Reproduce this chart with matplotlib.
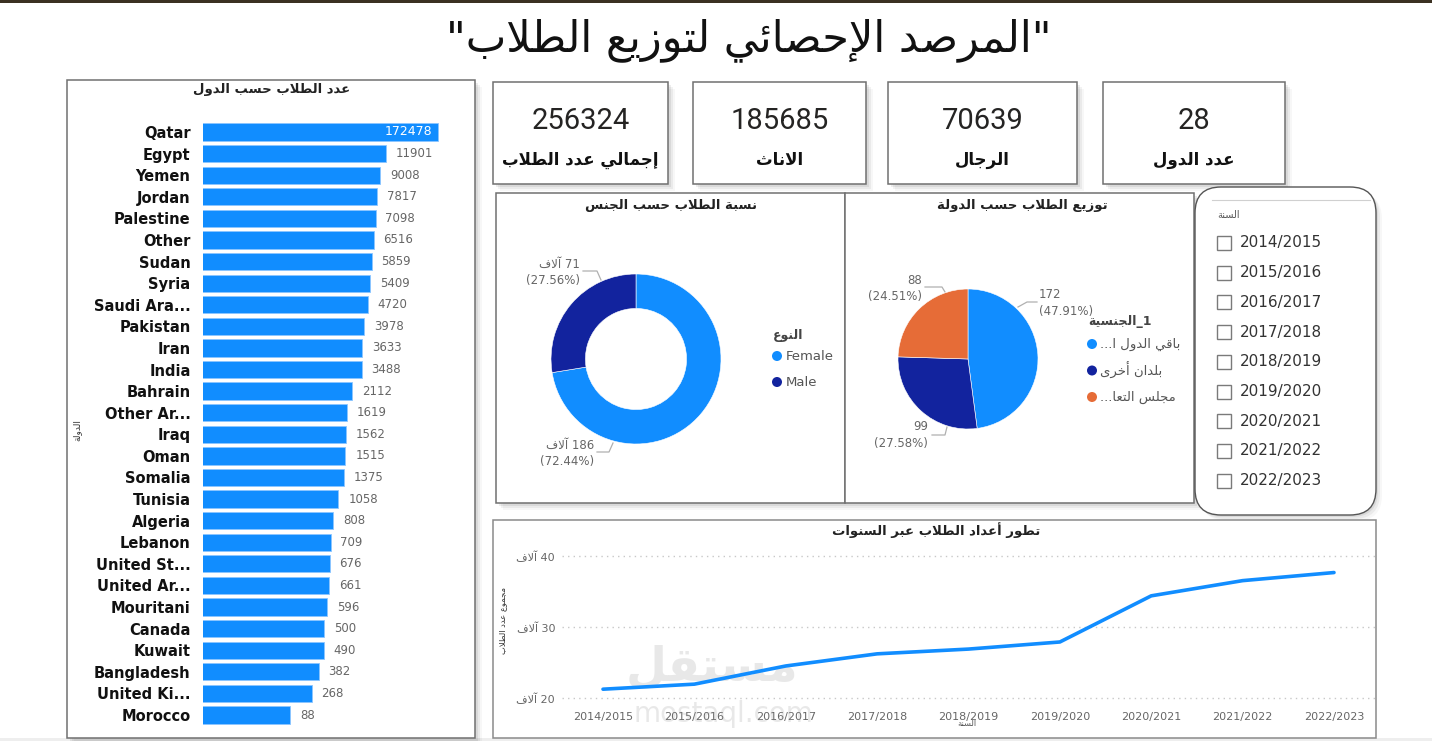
import numpy as np
import matplotlib.pyplot as plt
from matplotlib.patches import Rectangle, FancyBboxPatch, Circle

plt.rcParams['font.family'] = ['DejaVu Sans']

# ---- data ----
countries = ['Qatar', 'Egypt', 'Yemen', 'Jordan', 'Palestine', 'Other', 'Sudan',
             'Syria', 'Saudi Ara...', 'Pakistan', 'Iran', 'India', 'Bahrain',
             'Other Ar...', 'Iraq', 'Oman', 'Somalia', 'Tunisia', 'Algeria',
             'Lebanon', 'United St...', 'United Ar...', 'Mouritani', 'Canada',
             'Kuwait', 'Bangladesh', 'United Ki...', 'Morocco']
students = [172478, 11901, 9008, 7817, 7098, 6516, 5859, 5409, 4720, 3978,
            3633, 3488, 2112, 1619, 1562, 1515, 1375, 1058, 808, 709, 676,
            661, 596, 500, 490, 382, 268, 88]

kpi_values = ['256324', '185685', '70639', '28']
kpi_labels = ['إجمالي عدد الطلاب', 'الاناث', 'الرجال', 'عدد الدول']

genders = ['Female', 'Male']
gender_counts = [185685, 70639]

regions = ['باقي الدول ا...', 'بلدان أخرى', 'مجلس التعا...']
region_counts = [172, 99, 88]

years = ['2014/2015', '2015/2016', '2016/2017', '2017/2018', '2018/2019',
         '2019/2020', '2020/2021', '2021/2022', '2022/2023']
yearly_students = [21240, 21950, 24510, 26220, 26890, 27890, 34390, 36530, 37670]

BLUE = '#118DFF'
NAVY = '#12239E'
ORANGE = '#E66C37'
W, H = 1432, 741

# ---- minimal Arabic shaping (presentation forms + right-to-left order) ----
AR_LETTERS = 'ءآأؤإئابةتثجحخدذرزسشصضطظعغفقكلمنهوىي'
AR_NFORMS = [1, 2, 2, 2, 2, 4, 2, 4, 2, 4, 4, 4, 4, 4, 2, 2, 2, 2,
             4, 4, 4, 4, 4, 4, 4, 4, 4, 4, 4, 4, 4, 4, 4, 2, 2, 4]
AR_FORMS = {}
_code = 0xFE80
for _c, _n in zip(AR_LETTERS, AR_NFORMS):
    AR_FORMS[_c] = (_code, _n)
    _code += _n
LAM_ALEF = {'آ': 0xFEF5, 'أ': 0xFEF7, 'إ': 0xFEF9, 'ا': 0xFEFB}


def ar(text):
    tokens = []
    i = 0
    while i < len(text):
        c = text[i]
        if c == 'ل' and i + 1 < len(text) and text[i + 1] in LAM_ALEF:
            tokens.append(('LA', text[i + 1]))
            i += 2
        else:
            tokens.append(c)
            i += 1

    def nforms(t):
        if isinstance(t, tuple):
            return 2
        return AR_FORMS[t][1] if t in AR_FORMS else 0

    out = []
    for k, t in enumerate(tokens):
        pj = bool(k > 0 and nforms(tokens[k - 1]) == 4 and nforms(t) >= 2)
        nj = bool(k + 1 < len(tokens) and nforms(t) == 4 and nforms(tokens[k + 1]) >= 2)
        if isinstance(t, tuple):
            out.append(chr(LAM_ALEF[t[1]] + pj))
        elif t in AR_FORMS:
            base, n = AR_FORMS[t]
            if n == 4:
                out.append(chr(base + [[0, 2], [1, 3]][pj][nj]))
            elif n == 2:
                out.append(chr(base + pj))
            else:
                out.append(chr(base))
        else:
            out.append(t)
    return ''.join(reversed(out))


fig = plt.figure(figsize=(W / 100, H / 100), dpi=100, facecolor='white')


def px_axes(x0, y0, x1, y1):
    return fig.add_axes([x0 / W, 1 - y1 / H, (x1 - x0) / W, (y1 - y0) / H])


# background layer in pixel coordinates
bg = fig.add_axes([0, 0, 1, 1])
bg.set_xlim(0, W)
bg.set_ylim(H, 0)
bg.axis('off')


def panel(x0, y0, x1, y1, ec='#707070', shadow=True):
    if shadow:
        for k, a in ((7, 0.03), (5, 0.05), (3, 0.07)):
            bg.add_patch(Rectangle((x0 + k, y0 + k), x1 - x0, y1 - y0,
                                   fc='black', ec='none', alpha=a))
    bg.add_patch(Rectangle((x0, y0), x1 - x0, y1 - y0, fc='white', ec=ec, lw=1.1))


# top strip and bottom band
bg.add_patch(Rectangle((0, 0), W, 2.5, fc='#3b3122', ec='none'))
bg.add_patch(Rectangle((0, 738), W, 3, fc='#eeeeee', ec='none'))

bg.text(749, 40, ar('"المرصد الإحصائي لتوزيع الطلاب"'), ha='center', va='center',
        fontsize=31, color='#111111')

# ---- panels ----
panel(67, 80, 475, 738)
bg.text(272, 90, ar('عدد الطلاب حسب الدول'), ha='center', va='center',
        fontsize=9.5, fontweight='bold', color='#222222')
bg.text(77, 430, ar('الدولة'), rotation=90, ha='center', va='center',
        fontsize=6.5, color='#333333')

kpi_boxes = [(493, 82, 668, 184), (693, 82, 866, 184), (888, 82, 1077, 184), (1103, 82, 1285, 184)]
for (x0, y0, x1, y1), val, lab in zip(kpi_boxes, kpi_values, kpi_labels):
    panel(x0, y0, x1, y1)
    cx = (x0 + x1) / 2
    bg.text(cx, 121, val, ha='center', va='center', fontsize=21,
            family='Roboto', color='#252423')
    bg.text(cx, 160, ar(lab), ha='center', va='center', fontsize=12,
            fontweight='bold', color='#111111')

panel(496, 193, 845, 503)
panel(845, 193, 1194, 503)
bg.text(671, 206, ar('نسبة الطلاب حسب الجنس'), ha='center', va='center',
        fontsize=9.5, fontweight='bold', color='#222222')
bg.text(1022, 206, ar('توزيع الطلاب حسب الدولة'), ha='center', va='center',
        fontsize=9.5, fontweight='bold', color='#222222')

# slicer
for k, a in ((6, 0.03), (4, 0.05), (2, 0.07)):
    bg.add_patch(FancyBboxPatch((1195 + k, 187 + k), 181, 328, boxstyle='round,pad=0,rounding_size=26',
                                fc='black', ec='none', alpha=a))
bg.add_patch(FancyBboxPatch((1195, 187), 181, 328, boxstyle='round,pad=0,rounding_size=26',
                            fc='white', ec='#555555', lw=1.0))
bg.plot([1212, 1370], [200, 200], color='#d0d0d0', lw=0.8)
bg.text(1228, 215, ar('السنة'), ha='center', va='center', fontsize=7, color='#555555')
for i, yr in enumerate(years):
    yy = 243 + 29.7 * i
    bg.add_patch(Rectangle((1217, yy - 7), 14, 14, fc='white', ec='#7a7a7a', lw=1))
    bg.text(1240, yy, yr, ha='left', va='center', fontsize=11, color='#333333')

# line chart panel
panel(493, 520, 1376, 738, shadow=False, ec='#8a8a8a')
bg.text(936, 530, ar('تطور أعداد الطلاب عبر السنوات'), ha='center', va='center',
        fontsize=9.5, fontweight='bold', color='#222222')
bg.text(503, 620, ar('مجموع عدد الطلاب'), rotation=90, ha='center', va='center',
        fontsize=6, color='#333333')
bg.text(967, 724, ar('السنة'), ha='center', va='center', fontsize=6, color='#555555')

# ---- bar chart (log scale) ----
axb = px_axes(203, 121.2, 470, 725.8)
axb.set_facecolor('none')
axb.set_xscale('log')
yb = np.arange(len(countries))
axb.barh(yb, students, height=0.8, color=BLUE, edgecolor='#8cc6ff', linewidth=0.6)
axb.set_xlim(1, 10 ** 5.96)
axb.set_ylim(len(countries) - 0.5, -0.5)
axb.set_yticks(yb)
axb.set_yticklabels(countries, fontsize=10.5, fontweight='bold', color='#111111')
axb.tick_params(axis='y', length=0, pad=9)
axb.set_xticks([])
axb.xaxis.set_minor_locator(plt.NullLocator())
for s in axb.spines.values():
    s.set_visible(False)
for i, v in enumerate(students):
    if i == 0:
        axb.annotate(str(v), (v, i), xytext=(-4, 0), textcoords='offset points',
                     ha='right', va='center', fontsize=9, color='white')
    else:
        axb.annotate(str(v), (v, i), xytext=(7, 0), textcoords='offset points',
                     ha='left', va='center', fontsize=8.5, color='#666666')

# ---- donut ----
axd = px_axes(486, 209, 786, 509)
axd.pie(gender_counts, colors=[BLUE, NAVY], startangle=90, counterclock=False,
        radius=1, wedgeprops=dict(width=0.405, edgecolor='white', linewidth=0.4))
axd.set_xlim(-150 / 85, 150 / 85)
axd.set_ylim(-150 / 85, 150 / 85)
axd.set_aspect('equal')
axd.axis('off')

gtot = sum(gender_counts)
donut_lab_pos = [(594, 445, [(597, 452), (609, 452), (613, 443)]),
                 (580, 264, [(583, 271), (597, 271), (601, 280)])]
for v, (lx, ly, lead) in zip(gender_counts, donut_lab_pos):
    bg.text(lx, ly, ar('آلاف') + f' {round(v / 1000)}', ha='right', va='center',
            fontsize=8.5, color='#666666')
    bg.text(lx, ly + 16.5, f'({v / gtot * 100:.2f}%)', ha='right', va='center',
            fontsize=8.5, color='#666666')
    bg.plot([p[0] for p in lead], [p[1] for p in lead], color='#b0b0b0', lw=0.9)

bg.text(773, 335, ar('النوع'), ha='left', va='center', fontsize=9,
        fontweight='bold', color='#444444')
for i, (g, c) in enumerate(zip(genders, [BLUE, NAVY])):
    yy = 356 + 26 * i
    bg.add_patch(Circle((777, yy), 5, fc=c, ec='none'))
    bg.text(786, yy, g, ha='left', va='center', fontsize=9.5, color='#555555')

# ---- pie ----
axp = px_axes(868, 259, 1068, 459)
axp.pie(region_counts, colors=[BLUE, NAVY, ORANGE], startangle=90, counterclock=False,
        radius=1, wedgeprops=dict(edgecolor='white', linewidth=0.4))
axp.set_xlim(-100 / 70, 100 / 70)
axp.set_ylim(-100 / 70, 100 / 70)
axp.set_aspect('equal')
axp.axis('off')

rtot = sum(region_counts)
pie_lab_pos = [(1039, 295, 'left', [(1018, 307), (1027, 302), (1037, 302)]),
               (928, 427, 'right', [(947, 427), (945, 435), (932, 435)]),
               (922, 280, 'right', [(945, 292), (942, 287), (925, 287)])]
for v, (lx, ly, ha, lead) in zip(region_counts, pie_lab_pos):
    bg.text(lx, ly, f'{v}', ha=ha, va='center', fontsize=8.5, color='#666666')
    bg.text(lx, ly + 16.5, f'({v / rtot * 100:.2f}%)', ha=ha, va='center',
            fontsize=8.5, color='#666666')
    bg.plot([p[0] for p in lead], [p[1] for p in lead], color='#b0b0b0', lw=0.9)

bg.text(1088, 322, ar('الجنسية') + '_1', ha='left', va='center', fontsize=9,
        fontweight='bold', color='#444444')
for i, (r, c) in enumerate(zip(regions, [BLUE, NAVY, ORANGE])):
    yy = 344 + 26.5 * i
    bg.add_patch(Circle((1092, yy), 5, fc=c, ec='none'))
    bg.text(1100, yy, ar(r), ha='left', va='center', fontsize=9.5, color='#555555')

# ---- line chart ----
axl = px_axes(562, 548, 1375, 705)
axl.set_facecolor('none')
xl = np.arange(len(years))
axl.plot(xl, yearly_students, color=BLUE, lw=2.6, solid_capstyle='round', zorder=3)
axl.set_xlim(-41 / 91.375, 8 + 41 / 91.375)
axl.set_ylim(20000 - 7 / 7.1 * 1000, 40000 + 8 / 7.1 * 1000)
axl.set_yticks([20000, 30000, 40000])
axl.set_yticklabels([ar('آلاف') + f' {t // 1000}' for t in [20000, 30000, 40000]],
                    fontsize=8, color='#666666')
axl.set_xticks(xl)
axl.set_xticklabels(years, fontsize=8, color='#666666')
axl.tick_params(length=0, pad=5)
axl.grid(axis='y', color='#c8c8c8', linestyle=(0, (1, 3)), lw=1)
for s in axl.spines.values():
    s.set_visible(False)

# watermark
bg.text(712, 668, ar('مستقل'), ha='center', va='center', fontsize=34,
        fontweight='bold', color='#9a9a9a', alpha=0.22, zorder=10)
fig.text(723 / W, 1 - 714 / H, 'mostaql.com', ha='center', va='center', fontsize=20,
         color='#9a9a9a', alpha=0.22, zorder=10)

fig.savefig('out.png', dpi=100, facecolor='white')
